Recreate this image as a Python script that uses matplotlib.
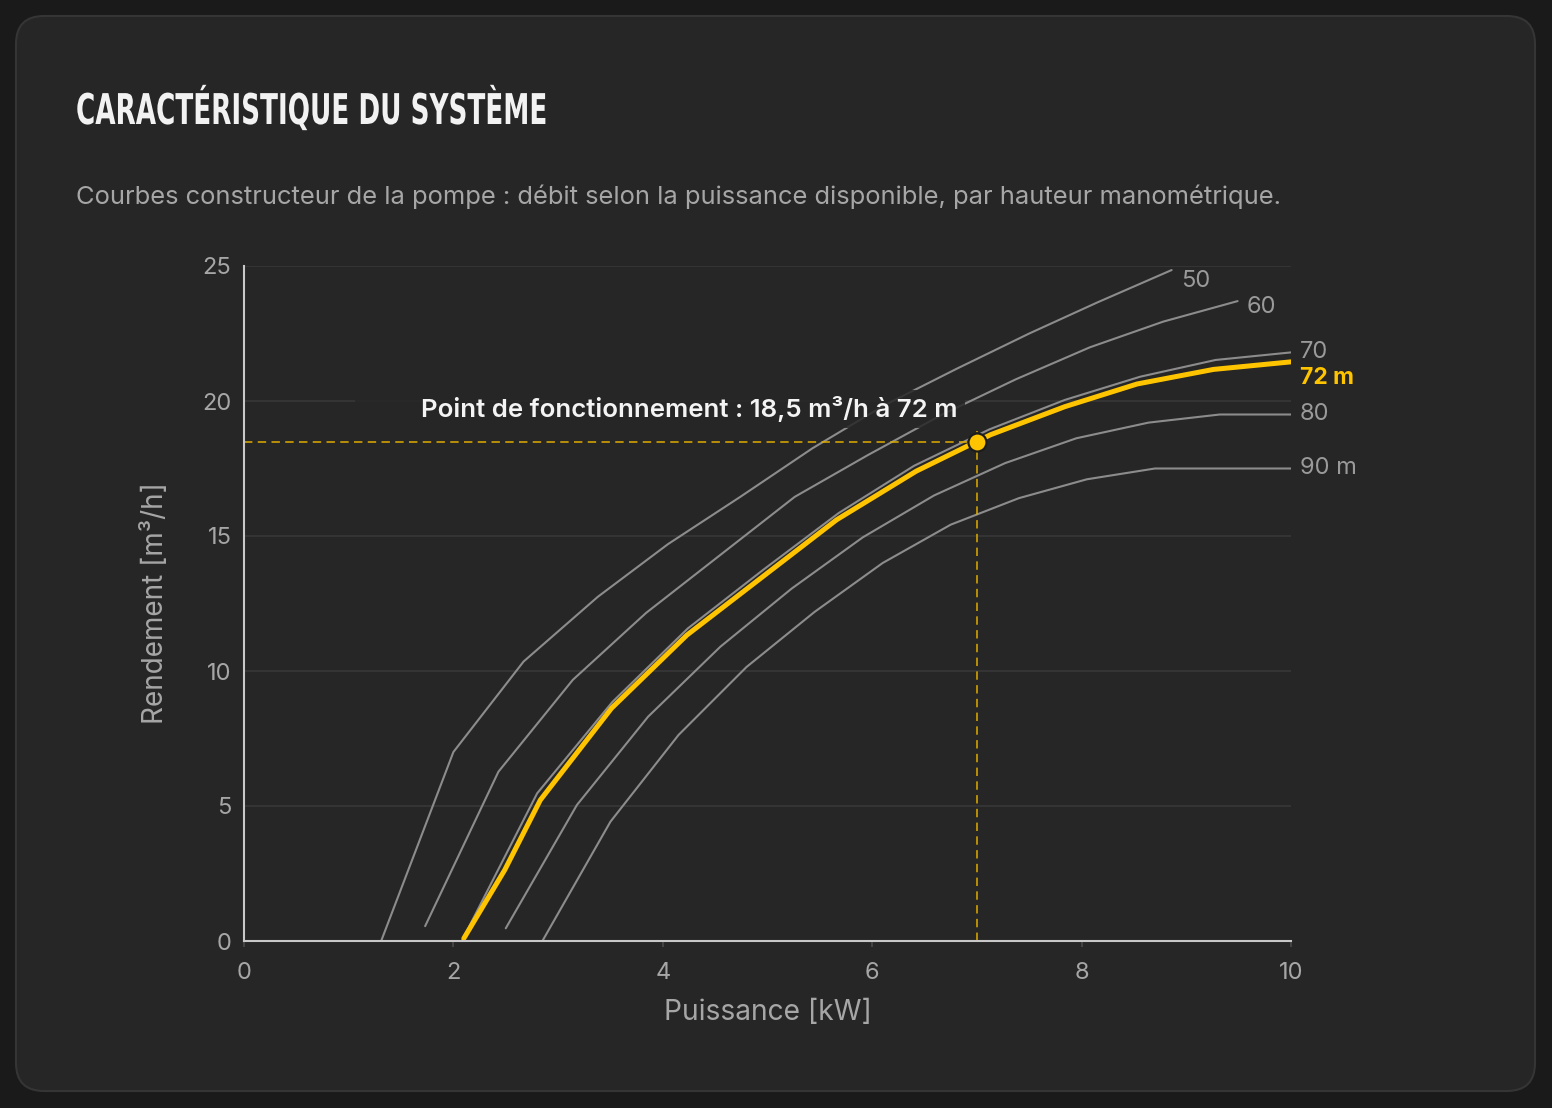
import matplotlib
matplotlib.use('Agg')
import matplotlib.pyplot as plt
from matplotlib.patches import FancyBboxPatch, Rectangle
from matplotlib.transforms import IdentityTransform, Affine2D
from matplotlib.patheffects import AbstractPathEffect
from matplotlib import font_manager
from matplotlib.font_manager import FontProperties

# ── Data: pump curves (power kW -> flow m³/h) per head ───────────────────────
heads = ['50', '60', '70', '80', '90 m']

p50 = [1.31, 2.0, 2.67, 3.38, 4.05, 4.74, 5.43, 6.12, 6.81, 7.5, 8.15, 8.86]
q50 = [0, 7.0, 10.35, 12.75, 14.7, 16.45, 18.25, 19.85, 21.2, 22.5, 23.65, 24.85]

p60 = [1.73, 2.43, 3.14, 3.84, 4.55, 5.26, 5.96, 6.67, 7.37, 8.08, 8.78, 9.49]
q60 = [0.55, 6.27, 9.67, 12.15, 14.3, 16.45, 18.0, 19.5, 20.8, 21.99, 22.94, 23.7]

p70 = [2.08, 2.80, 3.52, 4.24, 4.96, 5.68, 6.40, 7.12, 7.84, 8.56, 9.28, 10.0]
q70 = [0, 5.47, 8.86, 11.58, 13.75, 15.85, 17.6, 18.95, 20.04, 20.9, 21.52, 21.8]

p80 = [2.50, 3.18, 3.86, 4.55, 5.23, 5.91, 6.59, 7.27, 7.95, 8.64, 9.32, 10.0]
q80 = [0.47, 5.04, 8.31, 10.9, 13.05, 14.95, 16.5, 17.7, 18.62, 19.2, 19.5, 19.5]

p90 = [2.85, 3.50, 4.15, 4.80, 5.45, 6.10, 6.75, 7.40, 8.05, 8.70, 9.35, 10.0]
q90 = [0, 4.42, 7.63, 10.15, 12.19, 14.0, 15.42, 16.4, 17.1, 17.5, 17.5, 17.5]

p72 = [2.10, 2.49, 2.83, 3.51, 4.23, 4.95, 5.66, 6.42, 7.13, 7.84, 8.53, 9.26, 10.0]
q72 = [0.1, 2.63, 5.22, 8.62, 11.33, 13.48, 15.6, 17.4, 18.75, 19.79, 20.63, 21.17, 21.45]

op_power, op_flow = 7.0, 18.5

x_ticks = [0, 2, 4, 6, 8, 10]
y_ticks = [0, 5, 10, 15, 20, 25]

# ── Palette / fonts ──────────────────────────────────────────────────────────
BG      = '#1a1a1a'
CARD    = '#262626'
GRAYLN  = '#8c8c8c'
TXT     = '#a6a6a6'
YELLOW  = '#ffc400'

fonts = font_manager.fontManager.ttflist
avail = {f.name for f in fonts}
FONT = 'Inter' if 'Inter' in avail else 'DejaVu Sans'
plt.rcParams['font.family'] = [FONT, 'DejaVu Sans']


def pick_condensed():
    """Find a condensed / narrow bold face for the title (stand-in for Bebas)."""
    keys = ('Condensed', 'Narrow', 'Cond')
    cands = [f for f in fonts
             if any(k in f.fname or k in f.name for k in keys)
             or f.stretch in ('condensed', 'semi-condensed', 'extra-condensed')]
    if not cands:
        return None

    def score(f):
        w = f.weight if isinstance(f.weight, int) else 400
        return (abs(w - 700), f.style != 'normal')
    cands.sort(key=score)
    return FontProperties(fname=cands[0].fname)


class Squeeze(AbstractPathEffect):
    """Narrow the glyphs horizontally around x0 (display px) - text stays text."""
    def __init__(self, sx, x0):
        super().__init__()
        self.sx, self.x0 = sx, x0

    def draw_path(self, renderer, gc, tpath, affine, rgbFace=None):
        squeeze = Affine2D().translate(-self.x0, 0).scale(self.sx, 1).translate(self.x0, 0)
        renderer.draw_path(gc, tpath, affine + squeeze, rgbFace)


title_fp = pick_condensed()
if title_fp is None:
    title_fp = FontProperties(family='DejaVu Sans', weight='bold')

W, H = 1552, 1108
fig = plt.figure(figsize=(W / 100, H / 100), dpi=100, facecolor=BG)

card = FancyBboxPatch((16, 17), 1519, 1075,
                      boxstyle='round,pad=0,rounding_size=28',
                      transform=IdentityTransform(),
                      facecolor=CARD, edgecolor='#353535', lw=1.5, zorder=0)
fig.add_artist(card)

title = fig.text(76 / W, 1 - 124 / H, 'CARACTÉRISTIQUE DU SYSTÈME',
                 fontproperties=title_fp, color='#f2f2f2',
                 va='baseline', ha='left')
title.set_fontsize(30.5)
renderer = fig.canvas.get_renderer()
tw = title.get_window_extent(renderer=renderer).width
title.set_path_effects([Squeeze(min(1.0, 471 / tw), 76)])

fig.text(76 / W, 1 - 204 / H,
         'Courbes constructeur de la pompe : débit selon la puissance disponible, '
         'par hauteur manométrique.',
         fontsize=18.4, color=TXT, va='baseline', ha='left')

# ── Axes ─────────────────────────────────────────────────────────────────────
ax = fig.add_axes([244 / W, 1 - 941 / H, (1291 - 244) / W, (941 - 266) / H])
ax.set_facecolor('none')
ax.set_xlim(0, 10)
ax.set_ylim(0, 25)
ax.set_xticks(x_ticks)
ax.set_yticks(y_ticks)
ax.tick_params(axis='x', colors='#4a4a4a', length=4.5, width=1.2, pad=10.5,
               labelsize=17, labelcolor=TXT)
ax.tick_params(axis='y', length=0, pad=9, labelsize=17, labelcolor=TXT)
for s in ('top', 'right'):
    ax.spines[s].set_visible(False)
for s in ('left', 'bottom'):
    ax.spines[s].set_color('#c8c8c8')
    ax.spines[s].set_linewidth(1.5)
    ax.spines[s].set_zorder(5)
ax.yaxis.grid(True, color='#353535', lw=1.4, zorder=0)
ax.set_axisbelow(True)

ax.set_xlabel('Puissance [kW]', fontsize=20.3, color=TXT)
ax.xaxis.set_label_coords((768 - 244) / 1047, (941 - 1012) / 675)
ax.xaxis.label.set_va('center')
ax.set_ylabel('Rendement [m³/h]', fontsize=20.1, color=TXT)
ax.yaxis.set_label_coords((155 - 244) / 1047, (941 - 603) / 675)
ax.yaxis.label.set_va('center')

# ── Curves ───────────────────────────────────────────────────────────────────
curves = [(p50, q50), (p60, q60), (p70, q70), (p80, q80), (p90, q90)]
label_dy = [-11, -6, 0, 0, 0]   # pixel nudges so labels don't collide
for (px, qy), name, dy in zip(curves, heads, label_dy):
    ax.plot(px, qy, color=GRAYLN, lw=1.5, zorder=2, solid_capstyle='round')
    ax.annotate(name, xy=(px[-1], qy[-1]), xytext=(9, dy),
                textcoords='offset pixels', va='center', ha='left',
                fontsize=17, color='#9a9a9a', annotation_clip=False)

ax.plot(p72, q72, color=YELLOW, lw=3.6, zorder=4, solid_capstyle='round')
ax.annotate('72 m', xy=(p72[-1], q72[-1]), xytext=(9, -16),
            textcoords='offset pixels', va='center', ha='left',
            fontsize=16.5, weight='bold', color=YELLOW, annotation_clip=False)

# ── Operating point ──────────────────────────────────────────────────────────
ax.plot([0, op_power + 0.1], [op_flow, op_flow], color='#e0ac00', lw=1.1,
        dashes=(5.5, 3.5), zorder=3)
ax.plot([op_power, op_power], [0, op_flow + 0.4], color='#e0ac00', lw=1.1,
        dashes=(5.5, 3.5), zorder=3)
ax.plot([op_power], [op_flow], 'o', ms=13, color=YELLOW,
        markeredgecolor='#1c1c1c', mew=1.6, zorder=6)

# dimmed backdrop behind the annotation text
ax.add_patch(Rectangle((1.06, 19.0), 5.83, 1.4, facecolor=CARD, alpha=0.85,
                       edgecolor='none', zorder=4.5))
ax.text(6.81, 19.72, 'Point de fonctionnement : 18,5 m³/h à 72 m',
        ha='right', va='center', fontsize=18.6, weight='semibold',
        color='#f4f4f4', zorder=7)

fig.savefig('out.png', dpi=100, facecolor=BG)
